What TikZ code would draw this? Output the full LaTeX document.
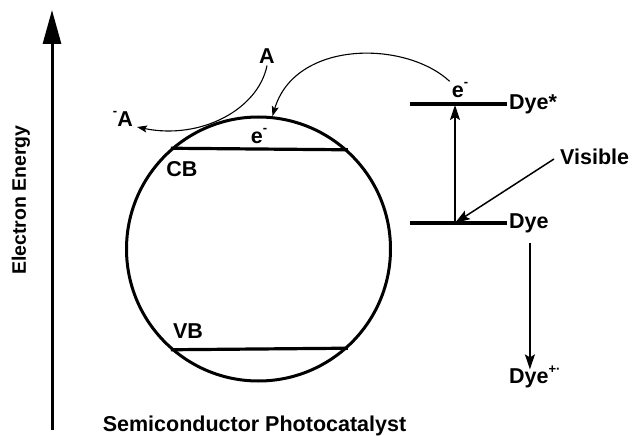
\documentclass[tikz,border=0pt]{standalone}
\usepackage{fontspec}
\setmainfont{Liberation Sans}
\usetikzlibrary{arrows.meta}
\newcommand{\supr}[1]{\raisebox{0.5em}{\fontsize{13}{13}\selectfont #1}}
\begin{document}
\begin{tikzpicture}[x=1pt,y=-1pt,
  lbl/.style={font=\fontsize{21.5}{26}\selectfont\bfseries, inner sep=2pt},
  level/.style={line width=3.2pt},
  arr/.style={line width=1.5pt, -{Stealth[length=15pt,width=10pt,inset=3pt]}},
  carr/.style={line width=1.1pt, -{Stealth[length=10pt,width=7pt,inset=2pt]}},
  axisarr/.style={line width=3pt, -{Triangle[length=34pt,width=18pt]}}]
\useasboundingbox (0,0) rectangle (633,436);
% energy axis
\coordinate (ab) at (52,430);
\coordinate (at) at (52,10);
\draw[axisarr] (ab) -- (at);
\node[lbl, font=\fontsize{19.5}{24}\selectfont\bfseries, rotate=90] (ee) at (21,200) {Electron Energy};
% semiconductor particle
\node[circle, draw, line width=3pt, minimum size=264pt, inner sep=0pt] (sc) at (258.5,249) {};
\draw[level] (sc.131.4) -- (sc.48.6);
\draw[level] (sc.-131.4) -- (sc.-48.6);
\node[lbl] (cb) at (182,169) {CB};
\node[lbl] (vb) at (188,331) {VB};
\node[lbl] (e1) at (259,136) {e\supr{-}};
\node[lbl, anchor=base] (cap) at (254.5,431) {Semiconductor Photocatalyst};
% acceptor
\node[lbl] (A) at (267,56) {A};
\node[lbl, anchor=east] (Am) at (135,119) {\supr{-}A};
\draw[carr] (A.south) .. controls (258,110) and (200,140) .. ([xshift=2pt,yshift=-8pt]Am.east);
% dye levels
\node[lbl, anchor=west] (Ds) at (507,104) {Dye*};
\node[lbl, anchor=west] (Dy) at (507,223) {Dye};
\coordinate (dsl) at (410,104);
\coordinate (dyl) at (410,223);
\draw[level] (dsl) -- (Ds.west);
\draw[level] (dyl) -- (Dy.west);
\node[lbl] (e2) at (460,90) {e\supr{-}};
\draw[carr] (e2.140) .. controls (405,40) and (295,40) .. (sc.84);
% excitation
\coordinate (x1) at (455,223);
\coordinate (x2) at (455,105);
\draw[arr] (x1) -- (x2);
\node[lbl, anchor=west] (vis) at (558,157) {Visible};
\draw[arr] ([xshift=-4pt,yshift=-2pt]vis.west) -- (x1);
% oxidized dye
\node[lbl, anchor=west] (Dp) at (507,377) {Dye\supr{+·}};
\draw[arr] ([xshift=1pt,yshift=-8pt]Dy.south) -- ([xshift=1pt,yshift=-6pt]Dy.south |- Dp.north);
\end{tikzpicture}
\end{document}
